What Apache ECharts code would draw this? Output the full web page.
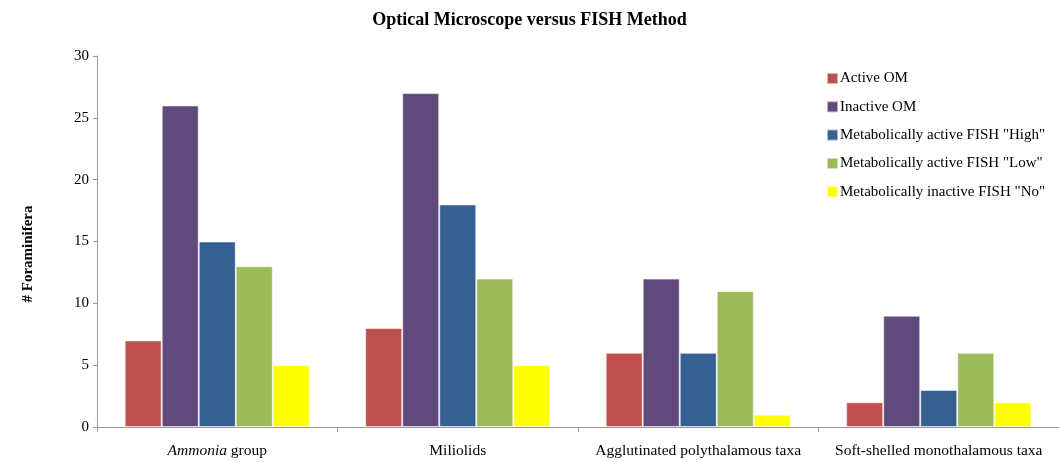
<!DOCTYPE html>
<html>
<head>
<meta charset="utf-8">
<script src="https://cdn.jsdelivr.net/npm/echarts@6/dist/echarts.min.js"></script>
<style>
  html, body { margin: 0; padding: 0; background: #fff; }
  #chart { width: 1059px; height: 462px; }
</style>
</head>
<body>
<div id="chart"></div>
<script>
// categories on the x axis
const categories = ['Ammonia group', 'Miliolids', 'Agglutinated polythalamous taxa', 'Soft-shelled monothalamous taxa']

// one array per series, in category order
const activeOM = [7, 8, 6, 2]
const inactiveOM = [26, 27, 12, 9]
const fishHigh = [15, 18, 6, 3]
const fishLow = [13, 12, 11, 6]
const fishNo = [5, 5, 1, 2]

const yTicks = [0, 5, 10, 15, 20, 25, 30]

const seriesDefs = [
  { name: 'Active OM', data: activeOM, color: '#C0504D' },
  { name: 'Inactive OM', data: inactiveOM, color: '#604A7B' },
  { name: 'Metabolically active FISH "High"', data: fishHigh, color: '#366092' },
  { name: 'Metabolically active FISH "Low"', data: fishLow, color: '#9BBB59' },
  { name: 'Metabolically inactive FISH "No"', data: fishNo, color: '#FFFF00' }
]

const serif = '"Liberation Serif", "DejaVu Serif", serif'

const myChart = echarts.init(document.getElementById('chart'))

const options = {
  animation: false,
  textStyle: { fontFamily: serif },
  title: {
    text: 'Optical Microscope versus FISH Method',
    left: 'center',
    top: 6,
    textStyle: { fontFamily: serif, fontSize: 18, fontWeight: 'bold', color: '#000' }
  },
  legend: {
    orient: 'vertical',
    left: 821,
    top: 66,
    itemWidth: 11,
    itemHeight: 11,
    itemGap: 13.3,
    icon: 'rect',
    textStyle: { fontFamily: serif, fontSize: 15, color: '#000', padding: [0, 0, 0, -3] },
    data: seriesDefs.map(s => s.name)
  },
  grid: {
    left: 97,
    top: 56,
    width: 968,
    height: 371
  },
  xAxis: {
    type: 'category',
    data: categories,
    axisLine: { lineStyle: { color: '#999' } },
    axisTick: { show: true, length: 5, lineStyle: { color: '#999' } },
    axisLabel: {
      interval: 0,
      margin: 16,
      fontSize: 15.5,
      color: '#000',
      fontFamily: serif,
      formatter: function (v) {
        if (v.indexOf('Ammonia') === 0) {
          return '{i|Ammonia}' + v.slice(7)
        }
        return v
      },
      rich: {
        i: { fontStyle: 'italic', fontSize: 15.5, fontFamily: serif, color: '#000' }
      }
    }
  },
  yAxis: {
    type: 'value',
    min: yTicks[0],
    max: yTicks[yTicks.length - 1],
    interval: 5,
    splitLine: { show: false },
    axisLine: { show: true, lineStyle: { color: '#999' } },
    axisTick: { show: true, length: 4, lineStyle: { color: '#999' } },
    axisLabel: { fontSize: 15, color: '#000', fontFamily: serif, margin: 8 }
  },
  graphic: [{
    type: 'text',
    x: 28,
    y: 254,
    rotation: Math.PI / 2,
    style: {
      text: '# Foraminifera',
      fontFamily: serif,
      fontSize: 15,
      fontWeight: 'bold',
      fill: '#000',
      align: 'center',
      verticalAlign: 'middle'
    }
  }],
  series: seriesDefs.map(s => ({
    name: s.name,
    type: 'bar',
    data: s.data,
    barGap: '0%',
    barCategoryGap: '23%',
    itemStyle: {
      color: s.color,
      borderColor: 'rgba(255,255,255,0.55)',
      borderWidth: 1
    }
  }))
}

myChart.setOption(options)
</script>
</body>
</html>
